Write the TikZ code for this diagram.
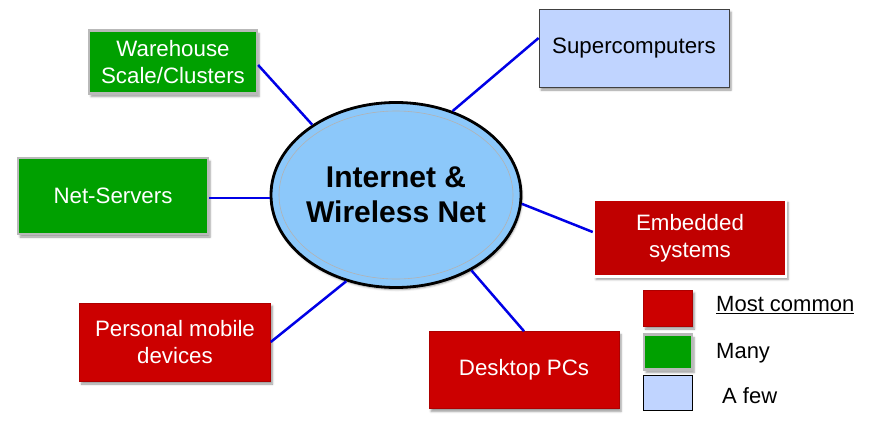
\documentclass[tikz,border=0pt]{standalone}
\usepackage{fontspec}
\setmainfont{Liberation Sans}
\usetikzlibrary{shapes.geometric,shadows.blur}
\definecolor{boxgreen}{RGB}{0,160,0}
\definecolor{boxred}{RGB}{204,0,0}
\definecolor{boxredb}{RGB}{192,0,0}
\definecolor{boxblue}{RGB}{192,212,255}
\definecolor{ellblue}{RGB}{140,200,250}
\definecolor{linkblue}{RGB}{0,0,230}
\tikzset{
  base/.style={rectangle, inner sep=0pt, align=center, text=white,
    font=\fontsize{22.3}{27}\selectfont,
    blur shadow={shadow xshift=2pt, shadow yshift=-3pt, shadow blur steps=5, shadow opacity=40}},
  greenbox/.style={base, fill=boxgreen, draw=gray!55, line width=2.2pt},
  redbox/.style={base, fill=boxred, draw=boxred!85!black, line width=0.6pt},
  redwbox/.style={base, fill=boxredb, draw=white, line width=2.5pt},
  bluebox/.style={base, fill=boxblue, draw=black!75, line width=0.8pt, text=black},
  link/.style={draw=linkblue, line width=2.5pt},
  legtext/.style={anchor=west, inner sep=0pt, font=\fontsize{22}{26}\selectfont}
}
\begin{document}
\begin{tikzpicture}[x=1pt, y=-1pt]
\useasboundingbox (0,0) rectangle (870,426);

% central ellipse
\node[ellipse, inner sep=0pt, minimum width=250pt, minimum height=185pt, fill=ellblue, draw=black, line width=2.8pt,
  blur shadow={shadow xshift=1pt, shadow yshift=-2pt, shadow opacity=40}] (net) at (396,195) {};
\draw[gray!60, line width=0.6pt] (net.center) ellipse [x radius=117pt, y radius=84pt];
\node[align=center, inner sep=0pt, font=\bfseries\fontsize{30}{35}\selectfont] (nettext) at (net.center) {Internet \&\\Wireless Net};

% boxes
\node[greenbox, minimum width=168pt, minimum height=63pt] (wh) at (173,62) {Warehouse\\Scale/Clusters};
\node[bluebox, minimum width=190pt, minimum height=78pt] (sc) at (634,48) {Supercomputers};
\node[greenbox, minimum width=190pt, minimum height=76pt] (ns) at (113,196) {Net-Servers};
\node[redwbox, minimum width=192pt, minimum height=77pt] (em) at (690,238) {Embedded\\systems};
\node[redbox, minimum width=191pt, minimum height=78pt] (pm) at (175,342) {Personal mobile\\devices};
\node[redbox, minimum width=190pt, minimum height=77pt] (dt) at (524,370) {Desktop PCs};

% links
\draw[link] ([yshift=-3pt]wh.east) -- (net.140);
\draw[link] ([yshift=10pt]sc.west) -- (net.56);
\draw[link] ([yshift=-2pt]ns.east) -- ([yshift=-2pt]ns.east -| net.west);
\draw[link] ([yshift=6pt]em.west) -- (net.-4);
\draw[link] (pm.east) -- (net.-120);
\draw[link] (dt.north) -- (net.-45);

% legend
\node[redbox, minimum width=49pt, minimum height=36pt] (lr) at (668,308) {};
\node[greenbox, minimum width=48pt, minimum height=35pt] (lg) at (668,352) {};
\node[base, fill=boxblue, draw=black, line width=0.8pt, minimum width=49pt, minimum height=35pt,
  blur shadow={shadow opacity=0}] (lb) at (668,393) {};
\node[legtext] (tr) at (716,305) {\underline{Most common}};
\node[legtext] (tg) at (716,353) {Many};
\node[legtext] (tb) at (722,396) {A few};
\end{tikzpicture}
\end{document}
